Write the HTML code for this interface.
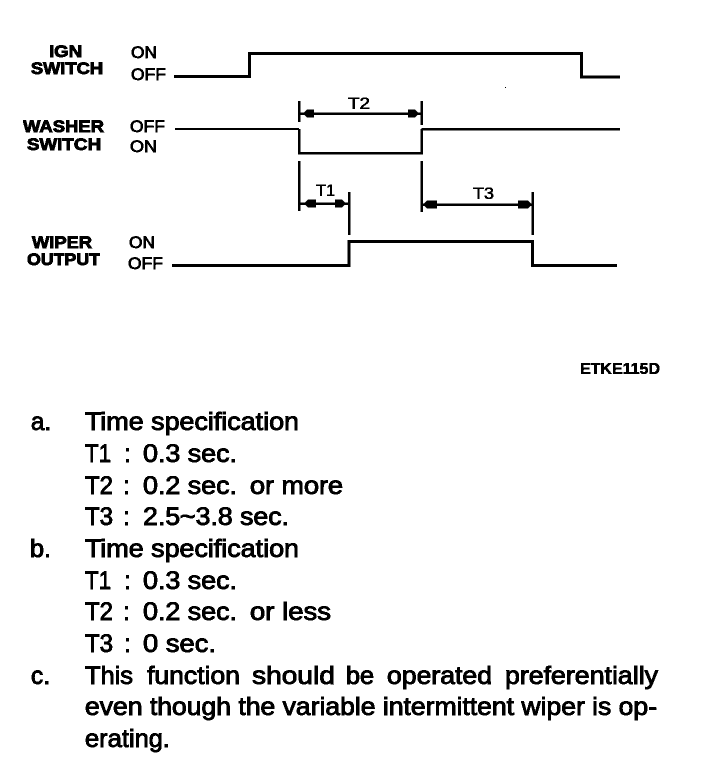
<!DOCTYPE html>
<html><head><meta charset="utf-8"><style>
html,body{margin:0;padding:0;background:#fff;width:704px;height:762px;overflow:hidden}
svg{display:block}
text{font-family:"Liberation Sans",sans-serif;fill:#000}
.b{font-size:25px;stroke:#000;stroke-width:.95px}
.l{font-size:17px;font-weight:bold;stroke:#000;stroke-width:.9px}
.s{font-size:17px;stroke:#000;stroke-width:.8px}
.t{font-size:17px;stroke:#000;stroke-width:.6px}
.e{font-size:15.5px;font-weight:bold;stroke:#000;stroke-width:.5px}
path,line{fill:none;stroke:#000;shape-rendering:crispEdges}
polygon{fill:#000;stroke:none}
</style></head><body>
<svg width="704" height="762" viewBox="0 0 704 762" xmlns="http://www.w3.org/2000/svg">
<defs><filter id="bw" x="0" y="0" width="100%" height="100%" filterUnits="objectBoundingBox" color-interpolation-filters="sRGB"><feComponentTransfer><feFuncA type="discrete" tableValues="0 0 1 1"/></feComponentTransfer></filter></defs>
<path stroke-width="3" d="M174 76.5H249.5V53.5H581.5V77H620"/>
<path stroke-width="2" d="M175 129H299V129"/>
<path stroke-width="2.5" d="M299 129V153H421.5V129"/>
<path stroke-width="2.5" d="M421.5 129H620"/>
<path stroke-width="3" d="M172 265.5H349V241.5H532.5V265.5H617"/>
<g stroke-width="2.5">
<line x1="299" y1="101" x2="299" y2="122"/><line x1="421.5" y1="101" x2="421.5" y2="125"/><line x1="299" y1="113.5" x2="421.5" y2="113.5"/>
<line x1="299" y1="161" x2="299" y2="211"/><line x1="349" y1="192" x2="349" y2="235"/><line x1="299" y1="203.5" x2="349" y2="203.5"/>
<line x1="421.5" y1="161" x2="421.5" y2="212"/><line x1="532.5" y1="192" x2="532.5" y2="235"/><line x1="421.5" y1="204.5" x2="532.5" y2="204.5"/>
</g>
<polygon points="303,113.5 307,109.5 314,109.5 314,117.5 307,117.5"/><polygon points="419,113.5 415,109.5 408,109.5 408,117.5 415,117.5"/>
<polygon points="304,203.5 308,199.5 316,199.5 316,207.5 308,207.5"/><polygon points="346,203.5 342,199.5 335,199.5 335,207.5 342,207.5"/>
<polygon points="423,204.5 427,200.5 437,200.5 437,208.5 427,208.5"/><polygon points="532,204.5 528,200.5 518,200.5 518,208.5 528,208.5"/>

<g filter="url(#bw)">
<text class="l" x="49" y="57" textLength="33" lengthAdjust="spacingAndGlyphs">IGN</text>
<text class="l" x="31" y="74" textLength="72" lengthAdjust="spacingAndGlyphs">SWITCH</text>
<text class="l" x="23" y="132" textLength="81" lengthAdjust="spacingAndGlyphs">WASHER</text>
<text class="l" x="27" y="150" textLength="74" lengthAdjust="spacingAndGlyphs">SWITCH</text>
<text class="l" x="32" y="248" textLength="60" lengthAdjust="spacingAndGlyphs">WIPER</text>
<text class="l" x="27" y="265" textLength="73" lengthAdjust="spacingAndGlyphs">OUTPUT</text>

<text class="s" x="131" y="58" textLength="26" lengthAdjust="spacingAndGlyphs">ON</text>
<text class="s" x="131" y="80" textLength="35" lengthAdjust="spacingAndGlyphs">OFF</text>
<text class="s" x="130" y="132" textLength="35" lengthAdjust="spacingAndGlyphs">OFF</text>
<text class="s" x="130" y="152" textLength="27" lengthAdjust="spacingAndGlyphs">ON</text>
<text class="s" x="129" y="248" textLength="26" lengthAdjust="spacingAndGlyphs">ON</text>
<text class="s" x="128" y="269" textLength="35" lengthAdjust="spacingAndGlyphs">OFF</text>

<text class="t" x="348" y="109" textLength="22" lengthAdjust="spacingAndGlyphs">T2</text>
<text class="t" x="316" y="196" textLength="19" lengthAdjust="spacingAndGlyphs">T1</text>
<text class="t" x="473" y="199" textLength="21" lengthAdjust="spacingAndGlyphs">T3</text>

<text class="e" x="580" y="374" textLength="80" lengthAdjust="spacingAndGlyphs">ETKE115D</text>

<text class="b" x="31" y="430" textLength="20" lengthAdjust="spacingAndGlyphs">a.</text>
<text class="b" x="85" y="430" textLength="214" lengthAdjust="spacingAndGlyphs">Time specification</text>
<text class="b" x="85" y="462" textLength="26" lengthAdjust="spacingAndGlyphs">T1</text>
<text class="b" x="124" y="462">:</text>
<text class="b" x="143" y="462" textLength="94" lengthAdjust="spacingAndGlyphs">0.3 sec.</text>
<text class="b" x="85" y="494" textLength="28" lengthAdjust="spacingAndGlyphs">T2</text>
<text class="b" x="123" y="494">:</text>
<text class="b" x="143" y="494" textLength="94" lengthAdjust="spacingAndGlyphs">0.2 sec.</text>
<text class="b" x="250" y="494" textLength="93" lengthAdjust="spacingAndGlyphs">or more</text>
<text class="b" x="85" y="525" textLength="28" lengthAdjust="spacingAndGlyphs">T3</text>
<text class="b" x="123" y="525">:</text>
<text class="b" x="143" y="525" textLength="146" lengthAdjust="spacingAndGlyphs">2.5~3.8 sec.</text>
<text class="b" x="30" y="557" textLength="21" lengthAdjust="spacingAndGlyphs">b.</text>
<text class="b" x="85" y="557" textLength="214" lengthAdjust="spacingAndGlyphs">Time specification</text>
<text class="b" x="85" y="589" textLength="26" lengthAdjust="spacingAndGlyphs">T1</text>
<text class="b" x="124" y="589">:</text>
<text class="b" x="143" y="589" textLength="94" lengthAdjust="spacingAndGlyphs">0.3 sec.</text>
<text class="b" x="85" y="620" textLength="28" lengthAdjust="spacingAndGlyphs">T2</text>
<text class="b" x="123" y="620">:</text>
<text class="b" x="143" y="620" textLength="94" lengthAdjust="spacingAndGlyphs">0.2 sec.</text>
<text class="b" x="250" y="620" textLength="81" lengthAdjust="spacingAndGlyphs">or less</text>
<text class="b" x="85" y="652" textLength="28" lengthAdjust="spacingAndGlyphs">T3</text>
<text class="b" x="124" y="652">:</text>
<text class="b" x="143" y="652" textLength="73" lengthAdjust="spacingAndGlyphs">0 sec.</text>
<text class="b" x="31" y="684" textLength="19" lengthAdjust="spacingAndGlyphs">c.</text>
<text class="b" x="85" y="684" textLength="48" lengthAdjust="spacingAndGlyphs">This</text>
<text class="b" x="147" y="684" textLength="93" lengthAdjust="spacingAndGlyphs">function</text>
<text class="b" x="252" y="684" textLength="83" lengthAdjust="spacingAndGlyphs">should</text>
<text class="b" x="346" y="684" textLength="28" lengthAdjust="spacingAndGlyphs">be</text>
<text class="b" x="387" y="684" textLength="105" lengthAdjust="spacingAndGlyphs">operated</text>
<text class="b" x="505" y="684" textLength="153" lengthAdjust="spacingAndGlyphs">preferentially</text>
<text class="b" x="85" y="715" textLength="572" lengthAdjust="spacingAndGlyphs">even though the variable intermittent wiper is op-</text>
<text class="b" x="85" y="747" textLength="85" lengthAdjust="spacingAndGlyphs">erating.</text>
</g>
<rect x="505" y="87" width="1" height="1" fill="#000"/>
</svg>
</body></html>
